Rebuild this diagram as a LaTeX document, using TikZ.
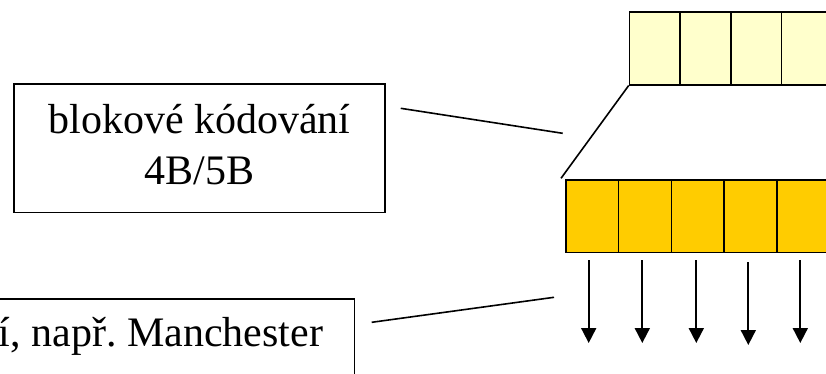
\documentclass[tikz,border=0pt]{standalone}
\usepackage{fontspec}
\setmainfont{Liberation Serif}
\usetikzlibrary{arrows.meta}
\definecolor{paleyellow}{HTML}{FFFFCC}
\definecolor{gold}{HTML}{FFCC00}
\frenchspacing
\begin{document}
\begin{tikzpicture}[x=1pt,y=-1pt,
  labelbox/.style={draw=black, line width=1.4pt, fill=white, inner sep=0pt, align=center,
    font=\fontsize{42}{50.4}\selectfont},
  labeltext/.style={inner sep=0pt, font=\fontsize{42}{50.4}\selectfont},
  topcell/.style={draw=black, line width=1.5pt, fill=paleyellow, inner sep=0pt,
    minimum width=50.7pt, minimum height=73pt, anchor=north west},
  botcell/.style={draw=black, line width=1.5pt, fill=gold, inner sep=0pt,
    minimum width=52.75pt, minimum height=72.4pt, anchor=north west},
  leader/.style={draw=black, line width=1.6pt},
  bitarrow/.style={draw=black, line width=1.8pt, -{Triangle[width=15pt,length=15pt]}}
]
\useasboundingbox (0,0) rectangle (826,373);
\clip (0,0) rectangle (826,373);
% upper row of 4 cells
\foreach \i in {0,...,3} {
  \node[topcell] (t\i) at ({628.7+50.7*\i},11) {};
}
% lower row of 5 cells
\foreach \i in {0,...,4} {
  \node[botcell] (c\i) at ({565+52.75*\i},179.3) {};
}
% slanted edge
\coordinate (slant) at (561,178.3);
\draw[leader] (t0.south west) -- (slant);
% output arrows
\foreach \i/\x/\ys/\ye in {0/588.7/260/343,1/642.3/260/343,2/696.3/260/343,3/748.3/262/345,4/800.3/260/343} {
  \coordinate (as\i) at (\x,\ys);
  \coordinate (ae\i) at (\x,\ye);
  \draw[bitarrow] (as\i) -- (ae\i);
}
% label box 1
\node[labelbox, minimum width=371pt, minimum height=128.7pt] (b1) at (199.5,148.4)
  {blokové kódování\\4B/5B\rule[-8pt]{0pt}{0pt}};
\coordinate (l1a) at (400.7,108.3);
\coordinate (l1b) at (562.7,133.3);
\draw[leader] (l1a) -- (l1b);
% label box 2 (cut off by the picture edge)
\node[labelbox, minimum width=400pt, minimum height=100pt, anchor=north east] (b2) at (355,298.3) {};
\node[labeltext, anchor=base east] (t2) at (323.3,346.7) {í, např. Manchester};
\coordinate (l2a) at (371.7,322.3);
\coordinate (l2b) at (554,297.3);
\draw[leader] (l2a) -- (l2b);
\end{tikzpicture}
\end{document}
